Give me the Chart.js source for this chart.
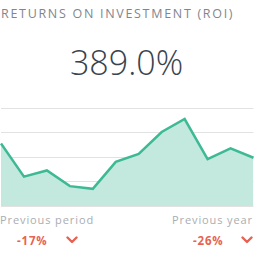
<!DOCTYPE html>
<html>
<head>
<meta charset="utf-8">
<script src="https://cdn.jsdelivr.net/npm/chart.js@4/dist/chart.umd.min.js"></script>
<style>
  html, body { margin: 0; padding: 0; background: #ffffff; width: 263px; height: 264px; overflow: hidden; }
  body { position: relative; font-family: "Open Sans", "DejaVu Sans", sans-serif; }
  .title { position: absolute; left: 1px; top: 5px; font-size: 12.5px; letter-spacing: 1.7px; color: #7f868e; white-space: nowrap; }
  .big { position: absolute; left: 0; width: 253px; top: 39px; text-align: center; font-family: "Open Sans", sans-serif; font-weight: 300; font-size: 34px; color: #38434f; line-height: 46px; }
  .lab { position: absolute; top: 212px; font-size: 11px; letter-spacing: 0.9px; color: #a9adb1; white-space: nowrap; }
  .val { position: absolute; top: 233px; font-size: 11.5px; font-weight: 700; letter-spacing: 0.8px; color: #e8624f; white-space: nowrap; }
  .chev { position: absolute; top: 236px; width: 12px; height: 8px; }
  #wrap { position: absolute; left: 0; top: 100px; width: 255px; height: 110px; }
</style>
</head>
<body>
<div class="title">RETURNS ON INVESTMENT (ROI)</div>
<div class="big" id="big"></div>
<div id="wrap"><canvas id="c"></canvas></div>
<div class="lab" style="left:0px">Previous period</div>
<div class="lab" style="left:172px">Previous year</div>
<div class="val" style="left:17px" id="v1"></div>
<div class="val" style="left:193px" id="v2"></div>
<svg class="chev" style="left:66px" viewBox="0 0 12 8"><polyline points="1.5,1.5 6,6 10.5,1.5" fill="none" stroke="#e8624f" stroke-width="2.4" stroke-linecap="round" stroke-linejoin="round"/></svg>
<svg class="chev" style="left:241px" viewBox="0 0 12 8"><polyline points="1.5,1.5 6,6 10.5,1.5" fill="none" stroke="#e8624f" stroke-width="2.4" stroke-linecap="round" stroke-linejoin="round"/></svg>
<script>
const periods = ["1","2","3","4","5","6","7","8","9","10","11","12"];
const roiValues = [2.55, 1.20, 1.45, 0.81, 0.70, 1.80, 2.13, 3.02, 3.55, 1.91, 2.35, 1.97];
const yTicks = [0, 1, 2, 3, 4];
const headline = "389.0%";
const prevPeriod = "-17%";
const prevYear = "-26%";

document.getElementById('big').textContent = headline;
document.getElementById('v1').textContent = prevPeriod;
document.getElementById('v2').textContent = prevYear;

new Chart(document.getElementById('c'), {
  type: 'line',
  data: {
    labels: periods,
    datasets: [{
      data: roiValues,
      borderColor: '#3dba94',
      backgroundColor: '#c3e9df',
      borderWidth: 2.5,
      fill: 'origin',
      tension: 0,
      pointRadius: 0,
      clip: false
    }]
  },
  options: {
    responsive: true,
    maintainAspectRatio: false,
    animation: false,
    layout: { padding: { top: 8, bottom: 4, left: 1, right: 1.5 } },
    plugins: { legend: { display: false }, tooltip: { enabled: false } },
    scales: {
      x: { display: false, offset: false },
      y: {
        min: yTicks[0],
        max: yTicks[yTicks.length - 1],
        afterBuildTicks: (axis) => { axis.ticks = yTicks.map(v => ({ value: v })); },
        ticks: { display: false },
        border: { display: false },
        grid: { color: '#e2e2e2', lineWidth: 1, drawTicks: false }
      }
    }
  }
});
</script>
</body>
</html>
